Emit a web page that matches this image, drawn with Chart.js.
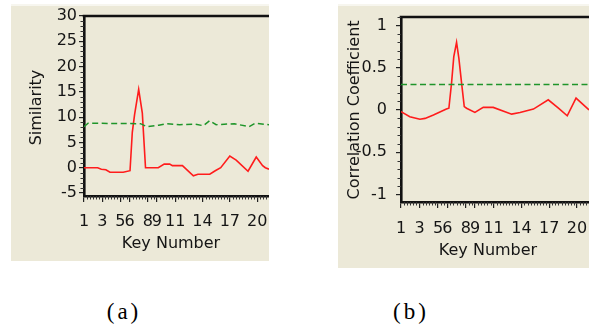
<!DOCTYPE html>
<html>
<head>
<meta charset="utf-8">
<script src="https://cdn.jsdelivr.net/npm/chart.js@4/dist/chart.umd.min.js"></script>
<style>
html,body{margin:0;padding:0;background:#fff;width:589px;height:326px;overflow:hidden;position:relative}
.panel{position:absolute;background:#ece9d8;box-shadow:inset 0 2px 0 #f7f6ef}
#pa{left:11px;top:4px;width:258px;height:257px}
#pb{left:338px;top:4px;width:251px;height:264px}
canvas{position:absolute;left:0;top:0}
.cap{position:absolute;top:298px;line-height:28px;font-family:"Liberation Serif","Times New Roman",serif;font-size:23px;color:#000;letter-spacing:3px;transform:translateX(-50%)}
</style>
</head>
<body>
<div class="panel" id="pa"><canvas id="ca" width="258" height="257"></canvas></div>
<div class="panel" id="pb"><canvas id="cb" width="251" height="264"></canvas></div>
<div class="cap" style="left:124px">(a)</div>
<div class="cap" style="left:411px">(b)</div>
<script>
// ---- data ----
const keysA = [1, 2.5, 2.9, 3.4, 3.85, 5.3, 6.05, 6.3, 6.55, 7.0, 7.4, 7.75, 9.15, 9.8, 10.4, 10.7, 11.8, 13.0, 13.5, 14.8, 15.4, 16, 17, 17.7, 19, 19.9, 20.6, 20.9, 21.3];
const simA  = [0, 0, -0.3, -0.4, -0.9, -0.9, -0.6, 7, 10.5, 15.5, 10.8, 0, 0, 0.7, 0.7, 0.4, 0.4, -1.6, -1.3, -1.3, -0.6, 0, 2.3, 1.5, -0.7, 2.1, 0.4, 0, -0.3];
const thrKeysA = [1, 1.45, 7.2, 7.9, 9.2, 10, 11.5, 13.2, 14.1, 14.8, 15.5, 17.5, 19.1, 19.8, 21.3];
const thrA     = [8.1, 8.8, 8.7, 8.1, 8.4, 8.7, 8.5, 8.6, 8.3, 9.3, 8.5, 8.7, 8.1, 8.8, 8.5];

const keysB = [1, 1.95, 3.04, 3.6, 4.5, 5.9, 6.17, 6.46, 6.7, 7.0, 7.25, 7.54, 7.83, 8.08, 8.98, 9.88, 10.96, 12.95, 13.85, 15.3, 16.9, 18.0, 18.95, 19.9, 21.3];
const corrB = [-0.02, -0.08, -0.11, -0.1, -0.06, 0.01, 0.02, 0.32, 0.63, 0.8, 0.61, 0.32, 0.04, 0.02, -0.03, 0.03, 0.03, -0.05, -0.03, 0.01, 0.12, 0.02, -0.07, 0.14, 0];
const thrKeysB = [1, 21.3];
const thrB     = [0.3, 0.3];

const xTickValues = [1, 3, 5, 6, 8, 9, 11, 14, 17, 20];
const xTickLabels = ['1', '3', '5', '6', '8', '9', '11', '14', '17', '20'];
const yTicksA  = [30, 25, 20, 15, 10, 5, 0, -5];
const yLabelsA = ['30', '25', '20', '15', '10', '5', '0', '-5'];
const yTicksB  = [1, 0.5, 0, -0.5, -1];
const yLabelsB = ['1', '0.5', '0', '-0.5', '-1'];

const FONT = 'DejaVu Sans';
const INK = '#151515';

const decorPlugin = {
  id: 'decor',
  afterDraw(chart, args, o) {
    const ctx = chart.ctx, ca = chart.chartArea, xs = chart.scales.x, ys = chart.scales.y;
    ctx.save();
    // top frame line
    ctx.strokeStyle = '#111'; ctx.lineWidth = 2.6;
    ctx.beginPath(); ctx.moveTo(ca.left - 1.3, ca.top); ctx.lineTo(ca.right, ca.top); ctx.stroke();
    // minor ticks
    ctx.strokeStyle = '#333'; ctx.lineWidth = 1;
    ctx.beginPath();
    const k0 = Math.ceil(ys.min / o.yMinor - 1e-9), k1 = Math.floor(ys.max / o.yMinor + 1e-9);
    for (let k = k0; k <= k1; k++) {
      const v = k * o.yMinor;
      if (o.yMajor.some(m => Math.abs(m - v) < 1e-9)) continue;
      const py = Math.round(ys.getPixelForValue(v)) + 0.5;
      ctx.moveTo(ca.left - 3.5, py); ctx.lineTo(ca.left, py);
    }
    for (let k = 0; 1 + k / 3 <= xs.max + 1e-9; k++) {
      const v = 1 + k / 3;
      if (xTickValues.some(m => Math.abs(m - v) < 1e-6)) continue;
      const px = Math.round(xs.getPixelForValue(v)) + 0.5;
      ctx.moveTo(px, ca.bottom); ctx.lineTo(px, ca.bottom + 3.5);
    }
    ctx.stroke();
    // axis titles
    ctx.fillStyle = INK;
    ctx.font = '16px "' + FONT + '"';
    ctx.textAlign = 'center'; ctx.textBaseline = 'middle';
    ctx.fillText(o.xTitle, o.xtX, o.xtY);
    ctx.translate(o.ytX, o.ytY); ctx.rotate(-Math.PI / 2);
    ctx.fillText(o.yTitle, 0, 0);
    ctx.restore();
  }
};

function noPad(s) { s.paddingLeft = 0; s.paddingRight = 0; s.paddingTop = 0; s.paddingBottom = 0; }

function build(id, o) {
  return new Chart(document.getElementById(id), {
    type: 'line',
    data: {
      datasets: [
        { data: o.thrKeys.map((k, i) => ({ x: k, y: o.thr[i] })), borderColor: '#1f952a', borderWidth: 1.5,
          borderDash: [6, 3.5], pointRadius: 0, fill: false, tension: 0 },
        { data: o.keys.map((k, i) => ({ x: k, y: o.vals[i] })), borderColor: '#ff1c1c', borderWidth: 1.6,
          pointRadius: 0, fill: false, tension: 0 }
      ]
    },
    options: {
      responsive: false, animation: false, devicePixelRatio: 1,
      layout: { padding: { top: o.top, left: 0, right: 0, bottom: 0 }, autoPadding: false },
      plugins: { legend: { display: false }, tooltip: { enabled: false }, decor: o.decor },
      scales: {
        x: {
          type: 'linear', min: 1, max: 21.3, position: 'bottom',
          afterFit: s => { s.height = o.h - o.bottom; noPad(s); },
          afterBuildTicks: s => { s.ticks = xTickValues.map(v => ({ value: v })); },
          ticks: { autoSkip: false, maxRotation: 0, minRotation: 0, padding: o.xPad, color: INK,
                   font: { family: FONT, size: 16 }, callback: (v, i) => xTickLabels[i] },
          grid: { drawOnChartArea: false, drawTicks: true, tickLength: 6, color: '#222', lineWidth: 1.2 },
          border: { display: true, color: '#111', width: 2.6 }
        },
        y: {
          type: 'linear', min: o.yMin, max: o.yMax, position: 'left',
          afterFit: s => { s.width = o.left; noPad(s); },
          afterBuildTicks: s => { s.ticks = o.yTicks.map(v => ({ value: v })); },
          ticks: { padding: o.yPad, color: INK, font: { family: FONT, size: 16 },
                   callback: (v, i) => o.yLabels[i] },
          grid: { drawOnChartArea: false, drawTicks: true, tickLength: 5, color: '#222', lineWidth: 1.2 },
          border: { display: true, color: '#111', width: 2.6 }
        }
      }
    },
    plugins: [decorPlugin]
  });
}

build('ca', {
  keys: keysA, vals: simA, thrKeys: thrKeysA, thr: thrA,
  h: 257, left: 73, top: 12, bottom: 192, yMin: -5.6, yMax: 30,
  yTicks: yTicksA, yLabels: yLabelsA, yPad: 2, xPad: 10.4,
  decor: { yMinor: 1, yMajor: yTicksA, xTitle: 'Key Number', xtX: 160, xtY: 240,
           yTitle: 'Similarity', ytX: 26, ytY: 103.5 }
});
build('cb', {
  keys: keysB, vals: corrB, thrKeys: thrKeysB, thr: thrB,
  h: 264, left: 63, top: 13, bottom: 198, yMin: -1.09, yMax: 1.1,
  yTicks: yTicksB, yLabels: yLabelsB, yPad: 9, xPad: 11.4,
  decor: { yMinor: 0.1, yMajor: yTicksB, xTitle: 'Key Number', xtX: 150, xtY: 246.5,
           yTitle: 'Correlation Coefficient', ytX: 17, ytY: 106 }
});
</script>
</body>
</html>
